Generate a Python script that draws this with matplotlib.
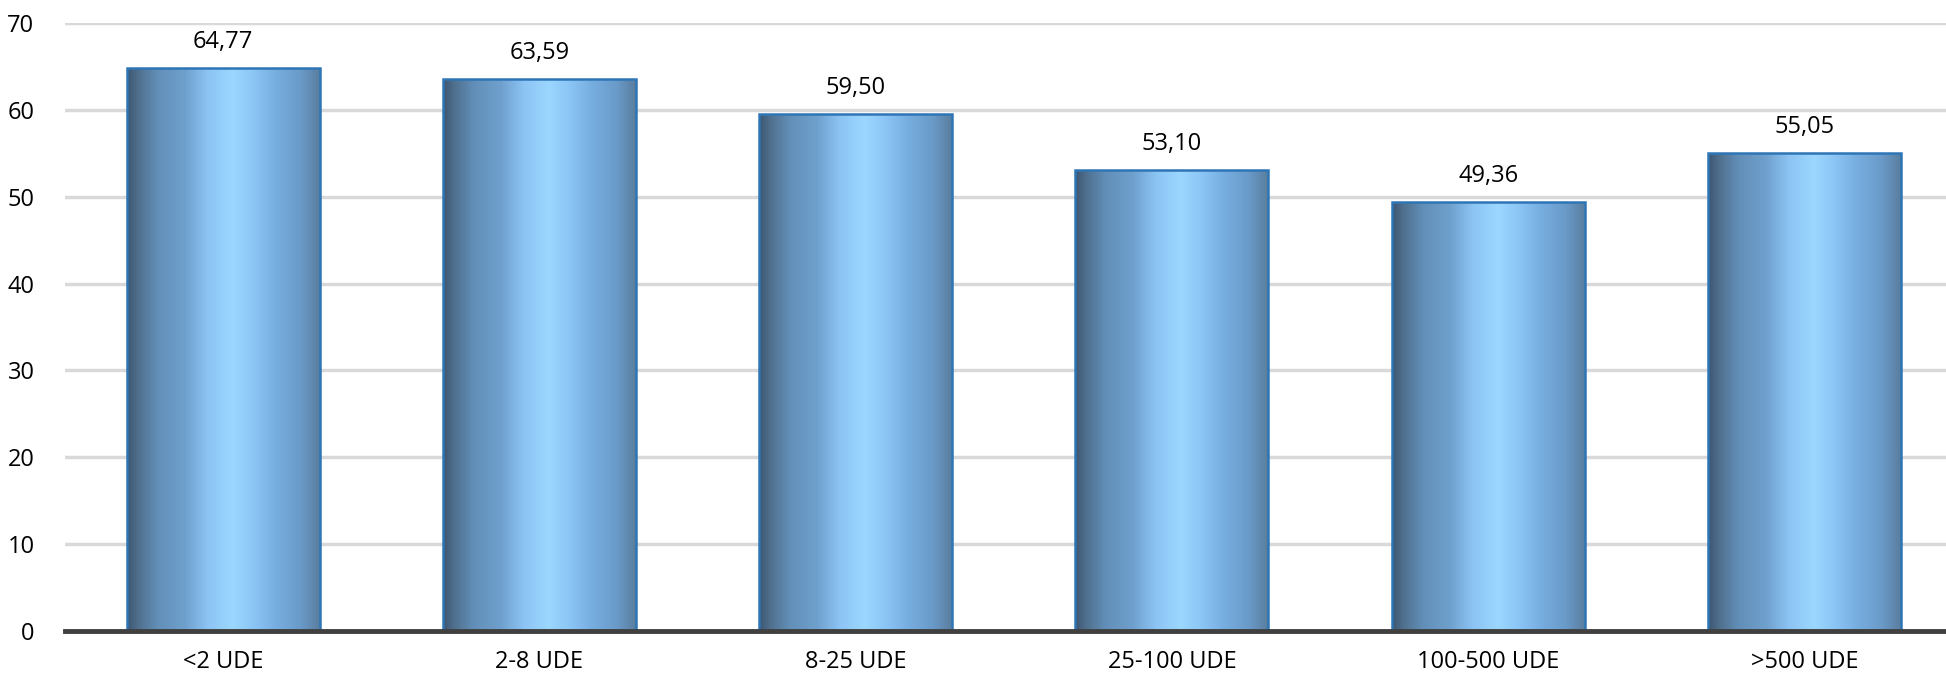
import matplotlib

matplotlib.use("Agg")
import matplotlib.pyplot as plt
import numpy as np
from matplotlib.colors import LinearSegmentedColormap
from matplotlib.patches import Rectangle

categories = ["<2 UDE", "2-8 UDE", "8-25 UDE", "25-100 UDE", "100-500 UDE", ">500 UDE"]
values = [64.77, 63.59, 59.50, 53.10, 49.36, 55.05]
labels = ["64,77", "63,59", "59,50", "53,10", "49,36", "55,05"]
yticks = [0, 10, 20, 30, 40, 50, 60, 70]

FONT = ["Open Sans", "DejaVu Sans"]
plt.rcParams["font.family"] = FONT

# horizontal "cylinder" shading of the bars
grad = LinearSegmentedColormap.from_list("bar", [
    (0.00, "#3d5670"), (0.06, "#50718f"), (0.16, "#628fb8"), (0.30, "#6fa0cd"),
    (0.42, "#8cc4f4"), (0.55, "#9bd7ff"), (0.66, "#8bc5f5"), (0.77, "#77aee0"),
    (0.90, "#6a9bc9"), (1.00, "#5a7e9f")])

W, H = 1946, 678
fig = plt.figure(figsize=(W / 100, H / 100), dpi=100)
ax = fig.add_axes([65 / W, 47 / H, (W - 65) / W, 608 / H])

x = np.arange(len(categories))
bw = 0.61
ax.set_xlim(-0.5, (W - 66.5) / 316 - 0.5)
ax.set_ylim(0, 70)

strip = np.linspace(0, 1, 256).reshape(1, -1)
for xi, v, lab in zip(x, values, labels):
    rect = Rectangle((xi - bw / 2, 0), bw, v, facecolor="none", edgecolor="#2e75b6",
                     lw=1.8, zorder=4)
    ax.add_patch(rect)
    im = ax.imshow(strip, cmap=grad, aspect="auto", extent=(xi - bw / 2, xi + bw / 2, 0, v),
                   zorder=3, interpolation="bilinear")
    im.set_clip_path(rect)
    ax.text(xi, v + 3.0, lab, ha="center", va="center", fontsize=17, color="#000000")

ax.set_yticks(yticks)
ax.set_xticks(x)
ax.set_xticklabels(categories)
ax.yaxis.grid(True, color="#d9d9d9", lw=2.5)
ax.set_axisbelow(True)
for s in ("top", "right", "left"):
    ax.spines[s].set_visible(False)
ax.spines["bottom"].set_color("#404040")
ax.spines["bottom"].set_linewidth(3.5)
ax.spines["bottom"].set_zorder(5)
ax.tick_params(axis="both", length=0, labelsize=17, colors="#000000")
ax.tick_params(axis="y", pad=22)
ax.tick_params(axis="x", pad=14)

fig.savefig("out.png", dpi=100)
